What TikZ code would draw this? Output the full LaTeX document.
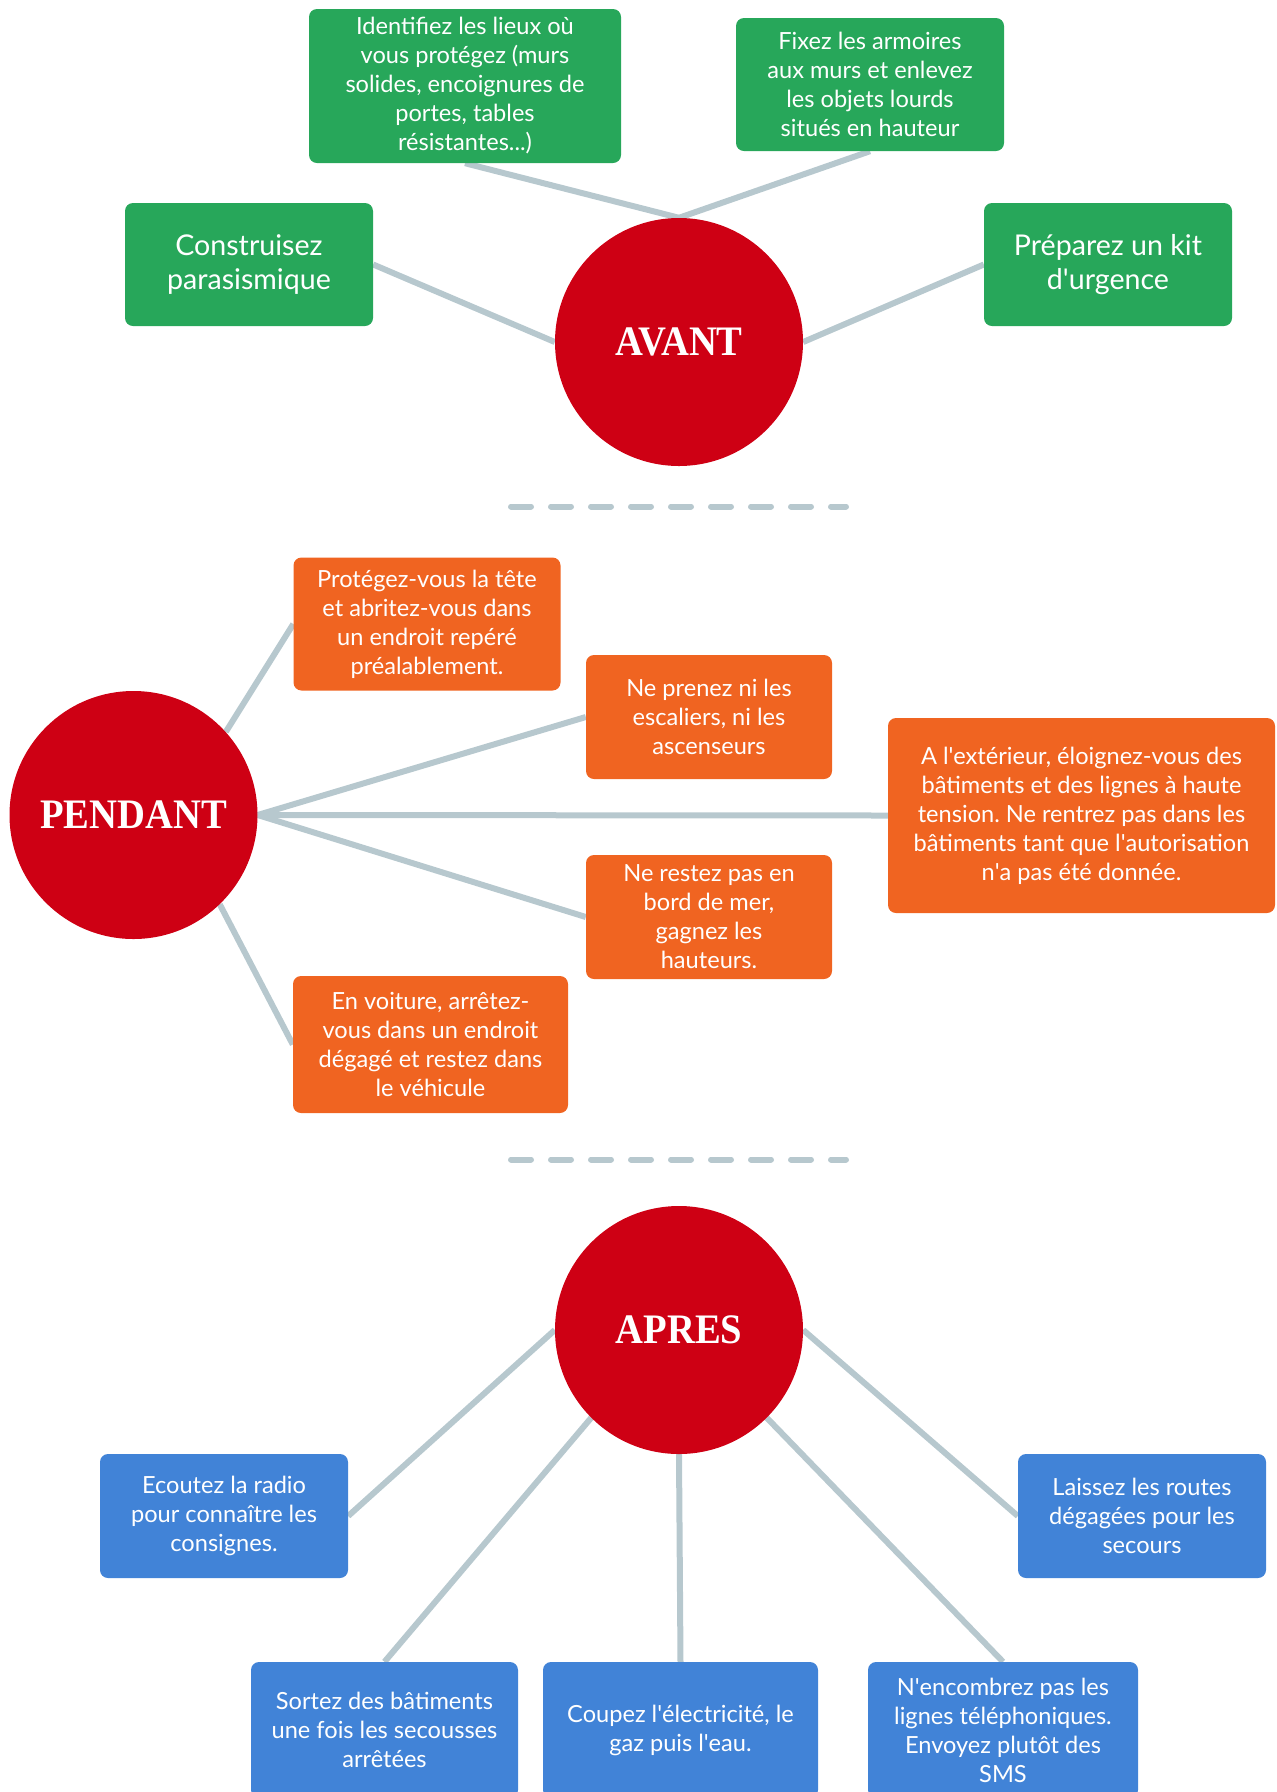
\documentclass[tikz,border=0pt]{standalone}
\usepackage{fontspec}
\setmainfont{Lato}
\newfontfamily\circfont[FakeStretch=0.92]{Liberation Serif}
\newcommand\sq{\XeTeXglyph\XeTeXcharglyph"27\relax}
\frenchspacing
\usetikzlibrary{backgrounds}
\definecolor{cgreen}{RGB}{39,167,90}
\definecolor{corange}{RGB}{240,100,33}
\definecolor{cblue}{RGB}{65,131,215}
\definecolor{cred}{RGB}{206,0,20}
\definecolor{clink}{RGB}{183,200,206}
\tikzset{
  box/.style={rounded corners=8pt, text=white, align=center, inner sep=0pt,
    font=\frenchspacing\fontsize{23.6}{29}\selectfont},
  gbox/.style={box, fill=cgreen},
  obox/.style={box, fill=corange},
  bbox/.style={box, fill=cblue},
  bigtext/.style={font=\fontsize{28.6}{34}\selectfont},
  circ/.style={circle, fill=cred, minimum size=248pt, inner sep=0pt, text=white,
    font=\circfont\bfseries\fontsize{42}{42}\selectfont},
  link/.style={draw=clink, line width=6pt},
  dashline/.style={draw=clink, line width=6pt, line cap=round, dash pattern=on 20pt off 20pt}
}
\begin{document}
\begin{tikzpicture}[x=1pt,y=-1pt]
\useasboundingbox (0,0) rectangle (1277,1792);
\clip (0,0) rectangle (1277,1792);

% AVANT
\node[circ] (avant) at (679,342) {AVANT};
\node[gbox, minimum width=312pt, minimum height=154pt] (g1) at (465,86)
  {Identifiez les lieux où\\vous protégez (murs\\solides, encoignures de\\portes, tables\\résistantes...)};
\node[gbox, minimum width=268pt, minimum height=133pt] (g2) at (870,84.5)
  {Fixez les armoires\\aux murs et enlevez\\les objets lourds\\situés en hauteur};
\node[gbox, bigtext, minimum width=248pt, minimum height=123pt] (g3) at (249,264.5)
  {Construisez\\parasismique};
\node[gbox, bigtext, minimum width=248pt, minimum height=123pt] (g4) at (1108,264.5)
  {Préparez un kit\\d\sq urgence};

% separators
\coordinate (d1s) at (511,506.5);
\coordinate (d1e) at (846,506.5);
\coordinate (d2s) at (511,1159.5);
\coordinate (d2e) at (846,1159.5);
\draw[dashline] (d1s) -- (d1e);
\draw[dashline] (d2s) -- (d2e);

% PENDANT
\node[circ] (pendant) at (133.5,815) {PENDANT};
\node[obox, minimum width=267pt, minimum height=133pt] (o1) at (427,624)
  {Protégez-vous la tête\\et abritez-vous dans\\un endroit repéré\\préalablement.};
\node[obox, minimum width=246pt, minimum height=124pt] (o2) at (709,717)
  {Ne prenez ni les\\escaliers, ni les\\ascenseurs};
\node[obox, minimum width=387pt, minimum height=195pt] (o3) at (1081.5,815.5)
  {A l\sq extérieur, éloignez-vous des\\bâtiments et des lignes à haute\\tension. Ne rentrez pas dans les\\bâtiments tant que l\sq autorisation\\n\sq a pas été donnée.};
\node[obox, minimum width=246pt, minimum height=124pt] (o4) at (709,917)
  {Ne restez pas en\\bord de mer,\\gagnez les\\hauteurs.};
\node[obox, minimum width=275pt, minimum height=137pt] (o5) at (430.5,1044.5)
  {En voiture, arrêtez-\\vous dans un endroit\\dégagé et restez dans\\le véhicule};

% APRES
\node[circ] (apres) at (679,1330) {APRES};
\node[bbox, minimum width=248pt, minimum height=124pt] (b1) at (224,1516)
  {Ecoutez la radio\\pour connaître les\\consignes.};
\node[bbox, minimum width=248pt, minimum height=124pt] (b2) at (1142,1516)
  {Laissez les routes\\dégagées pour les\\secours};
\node[bbox, minimum width=267pt, minimum height=136pt] (b3) at (384.5,1730)
  {Sortez des bâtiments\\une fois les secousses\\arrêtées};
\node[bbox, minimum width=275pt, minimum height=136pt] (b4) at (680.5,1730)
  {Coupez l\sq électricité, le\\gaz puis l\sq eau.};
\node[bbox, minimum width=270pt, minimum height=136pt] (b5) at (1003,1730)
  {N\sq encombrez pas les\\lignes téléphoniques.\\Envoyez plutôt des\\SMS};

\begin{scope}[on background layer]
\draw[link] (g1.south) -- (avant.north);
\draw[link] (g2.south) -- (avant.north);
\draw[link] (g3.east) -- (avant.west);
\draw[link] (g4.west) -- (avant.east);
\draw[link] (pendant.42) -- (o1.west);
\draw[link] (pendant.east) -- (o2.west);
\draw[link] (pendant.east) -- (o3.west);
\draw[link] (pendant.east) -- (o4.west);
\draw[link] (pendant.-46) -- (o5.west);
\draw[link] (apres.west) -- (b1.east);
\draw[link] (apres.east) -- (b2.west);
\draw[link] (apres.-135) -- (b3.north);
\draw[link] (apres.south) -- (b4.north);
\draw[link] (apres.-45) -- (b5.north);
\end{scope}
\end{tikzpicture}
\end{document}
